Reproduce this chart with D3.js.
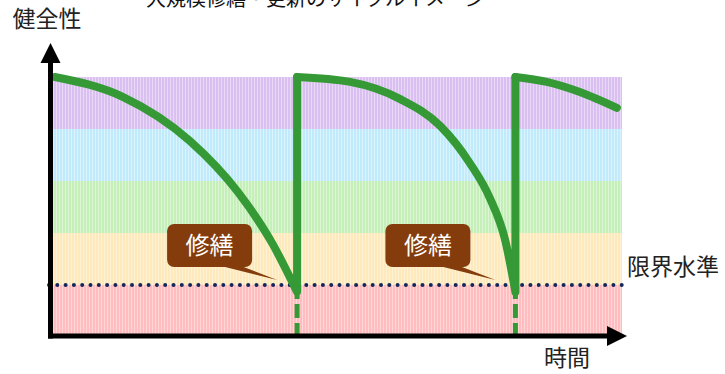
<!DOCTYPE html>
<html lang="ja">
<head>
<meta charset="utf-8">
<script src="https://cdn.jsdelivr.net/npm/d3@7/dist/d3.min.js"></script>
<style>
  html, body { margin: 0; padding: 0; background: #fff; }
  svg { display: block; font-family: "Noto Sans CJK JP", "Noto Sans", sans-serif; }
</style>
</head>
<body>
<svg id="chart" width="725" height="374"></svg>
<script>
// Health condition bands (bottom to top) and their colours
const bandLevels = [0, 20, 40, 60, 80, 100];
const bandColors = ["#ffbdc0", "#fde9bb", "#c5efb8", "#c1ebfa", "#dac0f1"];
const limitLevel = 20;

// Time of each repair (riser positions)
const repairTimes = [43.0, 81.3];

// Health over time for each cycle: [time, health]
const cycle1 = [[0.5, 100], [12.5, 92.3], [24.2, 75.4], [32.6, 55.8], [38.6, 36.2], [43.0, 17.3]];
const cycle2 = [[43.0, 100], [52.3, 98.1], [61.1, 91.5], [68.1, 81.2], [73.3, 66.9],
                [76.8, 53.5], [79.5, 37.3], [81.3, 17.3]];
const cycle3 = [[81.3, 100], [86.8, 98.1], [92.6, 94.2], [99.1, 88.1]];

// Text
const titleText = "大規模修繕・更新のサイクルイメージ";
const yLabel = "健全性";
const xLabel = "時間";
const limitLabel = "限界水準";
const repairLabel = "修繕";

const svg = d3.select("#chart");
const x = d3.scaleLinear().domain([0, 100]).range([52, 622]);
const y = d3.scaleLinear().domain([0, 100]).range([337, 77]);
const green = "#359a35";

// Striped fills for the bands
const defs = svg.append("defs");
bandColors.forEach((c, i) => {
  const p = defs.append("pattern")
    .attr("id", "band" + i)
    .attr("patternUnits", "userSpaceOnUse")
    .attr("width", 3).attr("height", 4);
  p.append("rect").attr("width", 3).attr("height", 4).attr("fill", c);
  p.append("rect").attr("x", 2).attr("width", 1).attr("height", 4)
    .attr("fill", "#fff").attr("opacity", 0.4);
});

// Title (runs off the top edge)
svg.append("text")
  .attr("x", 146).attr("y", 6)
  .attr("font-size", 20).attr("fill", "#111")
  .text(titleText);

// Bands
svg.append("g").selectAll("rect")
  .data(bandColors)
  .join("rect")
  .attr("x", x(0))
  .attr("width", x(100) - x(0))
  .attr("y", (d, i) => y(bandLevels[i + 1]))
  .attr("height", (d, i) => y(bandLevels[i]) - y(bandLevels[i + 1]))
  .attr("fill", (d, i) => `url(#band${i})`);

// Limit level dotted line
svg.append("line")
  .attr("x1", x(0) - 3).attr("x2", x(100))
  .attr("y1", y(limitLevel)).attr("y2", y(limitLevel))
  .attr("stroke", "#14265a")
  .attr("stroke-width", 4)
  .attr("stroke-linecap", "round")
  .attr("stroke-dasharray", "0 8.3");

// Dashed continuation below the limit at each repair
svg.append("g").selectAll("line")
  .data(repairTimes)
  .join("line")
  .attr("x1", d => x(d)).attr("x2", d => x(d))
  .attr("y1", y(limitLevel)).attr("y2", y(0))
  .attr("stroke", green)
  .attr("stroke-width", 5)
  .attr("stroke-dasharray", "14 5");

// Health curves
const line = d3.line().x(d => x(d[0])).y(d => y(d[1])).curve(d3.curveMonotoneX);
const cycles = [cycle1, cycle2, cycle3];
cycles.forEach((pts, i) => {
  let d = line(pts);
  if (i < repairTimes.length) d += `L${x(repairTimes[i])},${y(100)}`;
  svg.append("path")
    .attr("d", d)
    .attr("fill", "none")
    .attr("stroke", green)
    .attr("stroke-width", 8)
    .attr("stroke-linejoin", "round")
    .attr("stroke-linecap", "round");
});

// Repair callouts
const callouts = svg.append("g").selectAll("g")
  .data(repairTimes)
  .join("g")
  .attr("transform", d => `translate(${x(d)},0)`);
callouts.append("path")
  .attr("d", "M-76,266 L-56,266 L-20,280 Z")
  .attr("fill", "#843c0c");
callouts.append("rect")
  .attr("x", -130).attr("y", 224)
  .attr("width", 85).attr("height", 43)
  .attr("rx", 7)
  .attr("fill", "#843c0c");
callouts.append("text")
  .attr("x", -87.5).attr("y", 254)
  .attr("text-anchor", "middle")
  .attr("font-size", 24)
  .attr("fill", "#fff")
  .text(repairLabel);

// Axes with arrow heads
const axisY = 336, axisX = 50.5;
svg.append("line")
  .attr("x1", axisX).attr("x2", axisX)
  .attr("y1", axisY + 2.5).attr("y2", 62)
  .attr("stroke", "#000").attr("stroke-width", 5);
svg.append("path")
  .attr("d", `M${axisX},43 L${axisX - 10},63 L${axisX + 10},63 Z`)
  .attr("fill", "#000");
svg.append("line")
  .attr("x1", axisX - 2.5).attr("x2", 608)
  .attr("y1", axisY).attr("y2", axisY)
  .attr("stroke", "#000").attr("stroke-width", 5);
svg.append("path")
  .attr("d", `M627,${axisY} L607,${axisY - 10} L607,${axisY + 10} Z`)
  .attr("fill", "#000");

// Axis and level labels
svg.append("text")
  .attr("x", 47).attr("y", 27)
  .attr("text-anchor", "middle")
  .attr("font-size", 23).attr("fill", "#222")
  .text(yLabel);
svg.append("text")
  .attr("x", 567).attr("y", 366)
  .attr("text-anchor", "middle")
  .attr("font-size", 23).attr("fill", "#222")
  .text(xLabel);
svg.append("text")
  .attr("x", 627).attr("y", y(limitLevel) - 10)
  .attr("font-size", 23).attr("fill", "#222")
  .text(limitLabel);
</script>
</body>
</html>
